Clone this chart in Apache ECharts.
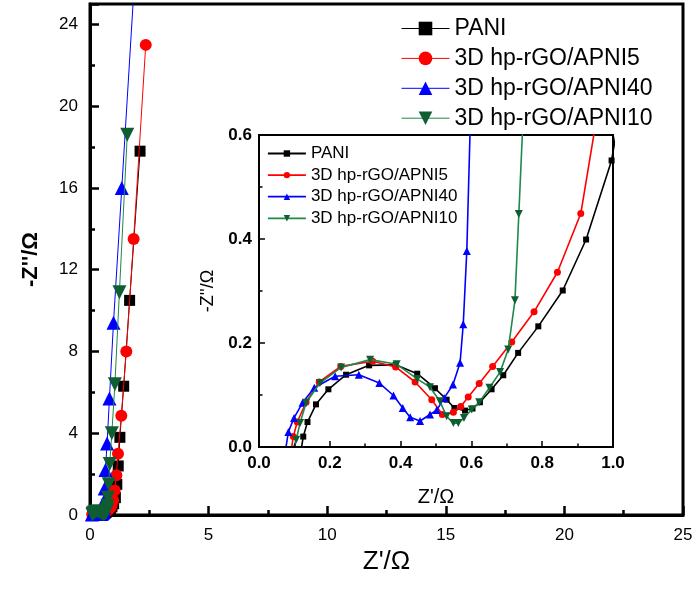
<!DOCTYPE html>
<html>
<head>
<meta charset="utf-8">
<script src="https://cdn.jsdelivr.net/npm/echarts@6/dist/echarts.min.js"></script>
<style>html,body{margin:0;padding:0;background:#fff}#c{width:699px;height:591px}</style>
</head>
<body>
<div id="c"></div>
<script>
var names = ['PANI', '3D hp-rGO/APNI5', '3D hp-rGO/APNI40', '3D hp-rGO/APNI10'];

var paniX = [0.118, 0.125, 0.137, 0.161, 0.196, 0.246, 0.311, 0.386, 0.447, 0.497, 0.530, 0.552, 0.582, 0.603, 0.624, 0.657, 0.690, 0.732, 0.789, 0.858, 0.924, 0.996, 1.07, 1.13, 1.19, 1.26, 1.42, 1.67, 2.11];
var paniY = [-0.01, 0.020, 0.048, 0.082, 0.111, 0.139, 0.157, 0.158, 0.141, 0.113, 0.091, 0.075, 0.070, 0.074, 0.086, 0.111, 0.138, 0.181, 0.232, 0.301, 0.399, 0.551, 0.85, 1.5, 2.4, 3.8, 6.3, 10.5, 17.8];

var apni5X = [0.090, 0.097, 0.108, 0.133, 0.170, 0.231, 0.321, 0.386, 0.441, 0.488, 0.518, 0.549, 0.570, 0.591, 0.622, 0.660, 0.714, 0.777, 0.843, 0.909, 0.975, 1.04, 1.11, 1.18, 1.32, 1.53, 1.84, 2.35];
var apni5Y = [-0.01, 0.020, 0.048, 0.086, 0.125, 0.155, 0.165, 0.154, 0.125, 0.091, 0.0625, 0.067, 0.078, 0.096, 0.122, 0.155, 0.202, 0.260, 0.336, 0.449, 0.72, 1.2, 1.95, 3.0, 4.85, 8.0, 13.5, 23.0];

var apni40X = [0.074, 0.083, 0.099, 0.123, 0.156, 0.215, 0.282, 0.340, 0.380, 0.406, 0.427, 0.455, 0.483, 0.502, 0.523, 0.548, 0.568, 0.577, 0.587, 0.60, 0.62, 0.65, 0.72, 0.82, 0.99, 1.34, 1.92];
var apni40Y = [-0.01, 0.029, 0.056, 0.085, 0.114, 0.136, 0.139, 0.123, 0.099, 0.075, 0.057, 0.050, 0.0625, 0.071, 0.094, 0.120, 0.162, 0.236, 0.377, 0.70, 1.3, 2.2, 3.5, 5.7, 9.4, 16.0, 27.0];

var apni10X = [0.093, 0.105, 0.116, 0.133, 0.172, 0.232, 0.314, 0.389, 0.447, 0.483, 0.511, 0.530, 0.549, 0.563, 0.579, 0.601, 0.622, 0.651, 0.681, 0.704, 0.723, 0.734, 0.76, 0.79, 0.83, 0.92, 1.05, 1.24, 1.57];
var apni10Y = [-0.01, 0.014, 0.046, 0.085, 0.123, 0.153, 0.168, 0.159, 0.131, 0.115, 0.088, 0.059, 0.046, 0.046, 0.056, 0.072, 0.086, 0.114, 0.144, 0.1875, 0.282, 0.448, 0.85, 1.5, 2.5, 4.0, 6.4, 10.9, 18.6];

var mainXTicks = [0, 5, 10, 15, 20, 25];
var mainYTicks = [0, 4, 8, 12, 16, 20, 24];
var insetXTicks = ['0.0', '0.2', '0.4', '0.6', '0.8', '1.0'];
var insetYTicks = ['0.0', '0.2', '0.4', '0.6'];

function pairs(xs, ys) { return xs.map(function (x, i) { return [x, ys[i]]; }); }
var allData = [pairs(paniX, paniY), pairs(apni5X, apni5Y), pairs(apni40X, apni40Y), pairs(apni10X, apni10Y)];

var lineColors = ['#000000', '#ff0000', '#0000ff', '#1b8a4a'];
var markColors = ['#000000', '#ff0000', '#0000ff', '#0f5e32'];
var symbols = ['rect', 'circle', 'triangle', 'triangle'];
var rotates = [0, 0, 0, 180];
var mainSizes = [11, 12, 14, 14];
var insetSizes = [6, 7, 8, 8];

var FONT = 'Arial, "Liberation Sans", sans-serif';

var series = [];
for (var i = 0; i < 4; i++) {
  series.push({
    name: names[i], type: 'line', xAxisIndex: 0, yAxisIndex: 0,
    data: allData[i], symbol: symbols[i], symbolRotate: rotates[i], symbolSize: mainSizes[i],
    showAllSymbol: true, clip: true,
    lineStyle: { color: lineColors[i], width: 1 },
    itemStyle: { color: markColors[i] },
    z: 2 + i
  });
}
for (var j = 0; j < 4; j++) {
  series.push({
    name: names[j], type: 'line', xAxisIndex: 1, yAxisIndex: 1,
    data: allData[j], symbol: symbols[j], symbolRotate: rotates[j], symbolSize: insetSizes[j],
    showAllSymbol: true, clip: true,
    lineStyle: { color: lineColors[j], width: 1.6 },
    itemStyle: { color: markColors[j] },
    z: 20 + j
  });
}

function axisCommon(lw, tickLen, minorLen, tickW, fs, bold, margin) {
  return {
    axisLine: { show: true, onZero: false, lineStyle: { color: '#000', width: lw } },
    axisTick: { show: true, inside: true, length: tickLen, lineStyle: { color: '#000', width: tickW } },
    minorTick: { show: true, splitNumber: 2, length: minorLen, lineStyle: { color: '#000', width: tickW } },
    splitLine: { show: false },
    minorSplitLine: { show: false },
    axisLabel: { color: '#000', fontSize: fs, fontFamily: FONT, fontWeight: bold ? 'bold' : 'normal', margin: margin, showMaxLabel: true }
  };
}

var mx = axisCommon(3, 9, 5, 2.5, 17, false, 12);
var my = axisCommon(3, 9, 5, 2.5, 17, false, 12);
var ix = axisCommon(2, 6, 3.5, 1.5, 17, true, 8);
var iy = axisCommon(2, 6, 3.5, 1.5, 17, true, 7);

var option = {
  animation: false,
  backgroundColor: '#fff',
  grid: [
    { left: 90, top: 4, width: 593, height: 511, show: true, borderColor: '#000', borderWidth: 3, backgroundColor: 'transparent' },
    { left: 259, top: 135, width: 354, height: 312, show: true, borderColor: '#000', borderWidth: 2, backgroundColor: '#fff', z: 10 }
  ],
  xAxis: [
    Object.assign({ gridIndex: 0, type: 'value', min: mainXTicks[0], max: mainXTicks[mainXTicks.length - 1], interval: mainXTicks[1] - mainXTicks[0],
      name: "Z'/Ω", nameLocation: 'middle', nameGap: 33, nameTextStyle: { fontSize: 26, fontFamily: FONT, color: '#000' } }, mx),
    Object.assign({ gridIndex: 1, type: 'value', min: 0, max: 1, interval: 0.2, z: 30,
      name: "Z'/Ω", nameLocation: 'middle', nameGap: 40, nameTextStyle: { fontSize: 20, fontFamily: FONT, color: '#000' } }, ix)
  ],
  yAxis: [
    Object.assign({ gridIndex: 0, type: 'value', min: 0, max: 25, interval: mainYTicks[1] - mainYTicks[0],
      name: "-Z''/Ω", nameLocation: 'middle', nameGap: 48, nameTextStyle: { fontSize: 22, fontWeight: 'bold', fontFamily: FONT, color: '#000' } }, my),
    Object.assign({ gridIndex: 1, type: 'value', min: 0, max: 0.6, interval: 0.2, z: 30,
      name: "-Z''/Ω", nameLocation: 'middle', nameGap: 37, nameTextStyle: { fontSize: 18, fontFamily: FONT, color: '#000' } }, iy)
  ],
  legend: [
    { orient: 'vertical', left: 401, top: 17, padding: 0, itemWidth: 48, itemHeight: 17, itemGap: 6.9, data: names,
      textStyle: { fontSize: 23, fontFamily: FONT, color: '#000' }, lineStyle: { width: 1 }, z: 40 },
    { orient: 'vertical', left: 267, top: 145, padding: 0, itemWidth: 38, itemHeight: 8, itemGap: 4.6, data: names,
      textStyle: { fontSize: 17, fontFamily: FONT, color: '#000' }, lineStyle: { width: 1.8 }, z: 40 }
  ],
  series: series
};

option.yAxis[0].axisLabel.showMaxLabel = false;
option.yAxis[0].axisLabel.formatter = function (v) { return mainYTicks.indexOf(v) >= 0 ? String(v) : ''; };
option.xAxis[0].axisLabel.formatter = function (v) { return mainXTicks.indexOf(v) >= 0 ? String(v) : ''; };
option.xAxis[1].axisLabel.formatter = function (v) { var s = v.toFixed(1); return insetXTicks.indexOf(s) >= 0 ? s : ''; };
option.yAxis[1].axisLabel.formatter = function (v) { var s = v.toFixed(1); return insetYTicks.indexOf(s) >= 0 ? s : ''; };

var chart = echarts.init(document.getElementById('c'), null, { renderer: 'canvas' });
chart.setOption(option);
</script>
</body>
</html>
